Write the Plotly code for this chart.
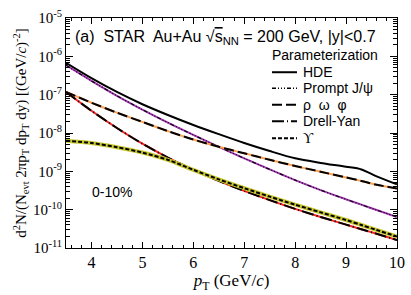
import plotly.graph_objects as go

pt = [3.5, 4.0, 4.5, 5.0, 5.5, 6.0, 6.5, 7.0, 7.5, 8.0, 8.5, 9.0, 9.3, 9.6, 10.0]

log_hde = [-6.17, -6.57, -6.93, -7.25, -7.53, -7.79, -8.03, -8.26, -8.47, -8.66, -8.78, -8.88, -8.95, -9.13, -9.34]
log_jpsi = [-6.23, -6.64, -7.03, -7.39, -7.73, -8.05, -8.36, -8.66, -8.95, -9.23, -9.49, -9.73, -9.87, -10.01, -10.19]
log_rho = [-6.93, -7.21, -7.47, -7.71, -7.95, -8.17, -8.36, -8.53, -8.70, -8.86, -9.01, -9.16, -9.25, -9.35, -9.45]
log_dy = [-6.93, -7.42, -7.87, -8.28, -8.64, -8.96, -9.25, -9.51, -9.75, -9.98, -10.19, -10.39, -10.51, -10.63, -10.79]
log_ups = [-8.20, -8.26, -8.37, -8.51, -8.70, -8.96, -9.21, -9.44, -9.66, -9.87, -10.07, -10.27, -10.40, -10.53, -10.70]

names = ["HDE", "Prompt J/ψ", "ρ  ω  φ", "Drell-Yan", "ϒ"]
colors = ["black", "#a838b8", "#ffa050", "#ff2020", "#c8c832"]
dashes = ["solid", "4px,2px,1px,2px,1px,2px,1px,2px", "10px,4px", "12px,3px,1px,3px", "4px,2px"]
widths = [2, 1.2, 2, 2, 2]
series = [log_hde, log_jpsi, log_rho, log_dy, log_ups]

# plot-area geometry (pixels) used for placing the hand-made legend
L, R, T, B = 66, 397, 17.7, 248.0
W, H = R - L, B - T
def px(x): return (x - L) / W
def py(y): return (B - y) / H

fig = go.Figure()
for i, (nm, col, ds, lg) in enumerate(zip(names, colors, dashes, series)):
    y = [10 ** v for v in lg]
    if i > 0:
        fig.add_trace(go.Scatter(x=pt, y=y, mode="lines",
                                 line=dict(color=col, width=4 if i == 4 else 2, shape="spline", smoothing=0.8),
                                 showlegend=False, hoverinfo="skip"))
    fig.add_trace(go.Scatter(x=pt, y=y, mode="lines", name=nm, showlegend=False,
                             line=dict(color="black", width=widths[i], dash=ds,
                                       shape="spline", smoothing=0.8)))

tickvals = [10 ** k for k in range(-11, -4)]
ticktext = ["10<sup>%d</sup>" % k for k in range(-11, -4)]
minor_vals = [m * 10 ** k for k in range(-11, -5) for m in range(2, 10)]

fig.update_layout(
    width=411, height=295,
    margin=dict(l=L, r=411 - R, t=T, b=295 - B),
    paper_bgcolor="white", plot_bgcolor="white",
    showlegend=False,
    font=dict(family="Liberation Serif", color="black"),
)
fig.update_xaxes(range=[3.5, 10], showline=True, linecolor="black", linewidth=1, mirror="ticks",
                 ticks="inside", ticklen=6, tickwidth=1, tickcolor="black", automargin=False,
                 tickvals=[4, 5, 6, 7, 8, 9, 10], showgrid=False, zeroline=False,
                 minor=dict(ticks="inside", ticklen=3, tickcolor="black", dtick=0.2, tick0=3.6, showgrid=False),
                 tickfont=dict(family="Liberation Serif", size=16),
                 title=dict(text="<i>p</i><sub>T</sub> (GeV/<i>c</i>)", font=dict(family="Liberation Serif", size=17), standoff=0))
fig.update_yaxes(type="log", range=[-11, -5], showline=True, linecolor="black", linewidth=1, mirror="ticks",
                 ticks="inside", ticklen=7, tickwidth=1, tickcolor="black", automargin=False,
                 tickvals=tickvals, ticktext=ticktext, showgrid=False, zeroline=False,
                 minor=dict(ticks="inside", ticklen=4, tickcolor="black", tickvals=minor_vals, showgrid=False),
                 tickfont=dict(family="Liberation Serif", size=15),
                 title=dict(text="d<sup>2</sup>N/(N<sub>evt</sub> 2πp<sub>T</sub> dp<sub>T</sub> dy) [(GeV/<i>c</i>)<sup>-2</sup>]",
                            font=dict(family="Liberation Serif", size=15), standoff=2))

fig.add_annotation(x=px(73), y=py(37), xref="paper", yref="paper", xanchor="left", yanchor="middle", showarrow=False,
                   text="(a)  STAR  Au+Au √<span style='text-decoration:overline'>s</span><sub>NN</sub> = 200 GeV, |y|<0.7",
                   font=dict(family="Liberation Sans", size=16, color="black"))
fig.add_annotation(x=px(90), y=py(192), xref="paper", yref="paper", xanchor="left", yanchor="middle", showarrow=False,
                   text="0-10%", font=dict(family="Liberation Sans", size=14, color="black"))

# legend
fig.add_annotation(x=px(270), y=py(55), xref="paper", yref="paper", xanchor="left", yanchor="middle", showarrow=False,
                   text="Parameterization", font=dict(family="Liberation Sans", size=14, color="black"))
leg_y = [72, 88, 104.5, 121, 138]
for nm, ds, yy, i in zip(names, dashes, leg_y, range(5)):
    fig.add_shape(type="line", xref="paper", yref="paper", x0=px(272), x1=px(297), y0=py(yy), y1=py(yy),
                  line=dict(color="black", width=widths[i] if i != 1 else 1.5, dash=ds))
    fam = "Liberation Serif" if i == 4 else "Liberation Sans"
    fig.add_annotation(x=px(301), y=py(yy), xref="paper", yref="paper", xanchor="left", yanchor="middle",
                       showarrow=False, text=nm, font=dict(family=fam, size=14, color="black"))

fig.write_html("out.html", config={"displayModeBar": False})
with open("out.html", encoding="utf-8") as f:
    html = f.read()
html = html.replace("<head>", "<head><style>html,body{margin:0;padding:0;overflow:hidden;}</style>", 1)
with open("out.html", "w", encoding="utf-8") as f:
    f.write(html)
